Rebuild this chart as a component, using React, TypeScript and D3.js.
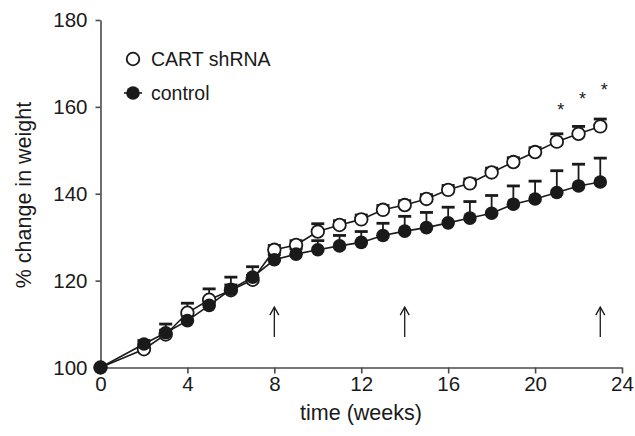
import React, { useRef, useEffect } from 'react'
import { select, scaleLinear, axisLeft, axisBottom, line } from 'd3'

// weeks of measurement (no week 1 point)
const weeks = [0, 2, 3, 4, 5, 6, 7, 8, 9, 10, 11, 12, 13, 14, 15, 16, 17, 18, 19, 20, 21, 22, 23]
const cart = [100, 104.2, 107.6, 112.6, 115.6, 117.8, 120.2, 127.1, 128.2, 131.3, 132.8, 134.1, 136.3, 137.4, 138.8, 140.9, 142.4, 144.9, 147.3, 149.6, 152.0, 153.8, 155.5]
const cartErr = [0, 0.8, 1.0, 2.2, 2.5, 1.2, 1.0, 1.0, 1.0, 1.8, 1.0, 1.0, 1.0, 1.0, 1.0, 1.0, 1.0, 1.0, 1.0, 1.0, 1.8, 1.7, 1.7]
const control = [100, 105.4, 108.0, 110.8, 114.3, 118.0, 120.8, 124.8, 126.1, 127.1, 128.0, 128.8, 130.4, 131.4, 132.2, 133.3, 134.4, 135.5, 137.6, 138.8, 140.3, 141.8, 142.7]
const controlErr = [0, 0.8, 2.0, 1.2, 1.2, 2.8, 2.4, 1.2, 1.2, 2.1, 2.4, 2.5, 2.8, 3.4, 3.5, 3.6, 3.8, 4.1, 4.2, 4.1, 5.0, 5.0, 5.5]

const xTicks = [0, 4, 8, 12, 16, 20, 24]
const yTicks = [100, 120, 140, 160, 180]

const sigWeeks = [21, 22, 23]
const sigLevels = [160.1, 162.8, 164.9]
const arrowWeeks = [8, 14, 23]
const arrowRange = [107, 113.9]

const FONT = '"Liberation Sans", Arial, Helvetica, sans-serif'
const INK = '#1a1a1a'

function App() {
  const svgRef = useRef(null)

  useEffect(() => {
    const svg = select(svgRef.current)
    svg.selectAll('*').remove()

    const x = scaleLinear().domain([0, 24]).range([100.5, 622])
    const y = scaleLinear().domain([100, 180]).range([367.5, 20])

    // axes
    const yAxis = axisLeft(y).tickValues(yTicks).tickSize(5).tickSizeOuter(0).tickPadding(8)
    const gy = svg.append('g').attr('transform', 'translate(100.5,0)').call(yAxis)
    const xAxis = axisBottom(x).tickValues(xTicks).tickSize(6).tickSizeOuter(0).tickPadding(3)
    const gx = svg.append('g').attr('transform', 'translate(0,367.5)').call(xAxis)
    ;[gx, gy].forEach(g => {
      g.select('.domain').attr('stroke', '#4a4a4a').attr('stroke-width', 1.6)
      g.selectAll('.tick line').attr('stroke', '#4a4a4a').attr('stroke-width', 1.6)
      g.selectAll('.tick text')
        .attr('fill', INK)
        .style('font-family', FONT)
        .style('font-size', '20.5px')
    })

    svg.append('text')
      .attr('x', 361).attr('y', 420)
      .attr('text-anchor', 'middle')
      .style('font-family', FONT).style('font-size', '21.5px')
      .attr('fill', INK)
      .text('time (weeks)')

    svg.append('text')
      .attr('transform', 'translate(31,195) rotate(-90)')
      .attr('text-anchor', 'middle')
      .style('font-family', FONT).style('font-size', '21.5px')
      .attr('fill', INK)
      .text('% change in weight')

    const mkLine = line().x(d => x(d[0])).y(d => y(d[1]))
    const cartPts = weeks.map((w, i) => [w, cart[i]])
    const ctrlPts = weeks.map((w, i) => [w, control[i]])

    svg.append('path').attr('d', mkLine(cartPts)).attr('fill', 'none').attr('stroke', INK).attr('stroke-width', 1.6)
    svg.append('path').attr('d', mkLine(ctrlPts)).attr('fill', 'none').attr('stroke', INK).attr('stroke-width', 1.6)

    // error bars (upper only)
    const drawErr = (vals, errs) => {
      const g = svg.append('g')
      weeks.forEach((w, i) => {
        if (!errs[i]) return
        const cx = x(w)
        const top = y(vals[i] + errs[i])
        g.append('line').attr('x1', cx).attr('x2', cx).attr('y1', y(vals[i])).attr('y2', top)
          .attr('stroke', INK).attr('stroke-width', 1.8)
        g.append('line').attr('x1', cx - 6.5).attr('x2', cx + 6.5).attr('y1', top).attr('y2', top)
          .attr('stroke', INK).attr('stroke-width', 2.8)
      })
    }
    drawErr(cart, cartErr)
    drawErr(control, controlErr)

    svg.append('g').selectAll('circle').data(cartPts).join('circle')
      .attr('cx', d => x(d[0])).attr('cy', d => y(d[1])).attr('r', 6.3)
      .attr('fill', '#fff').attr('stroke', INK).attr('stroke-width', 1.8)

    svg.append('g').selectAll('circle').data(ctrlPts).join('circle')
      .attr('cx', d => x(d[0])).attr('cy', d => y(d[1])).attr('r', 6.8)
      .attr('fill', INK)

    // significance asterisks
    svg.append('g').selectAll('text').data(sigWeeks).join('text')
      .attr('x', (d, i) => x(d) + 4).attr('y', (d, i) => y(sigLevels[i]) + 10)
      .attr('text-anchor', 'middle')
      .style('font-family', FONT).style('font-size', '18px')
      .attr('fill', INK)
      .text('*')

    // injection arrows
    const ga = svg.append('g').attr('stroke', INK).attr('stroke-width', 1.3).attr('fill', 'none')
    arrowWeeks.forEach(w => {
      const ax = x(w)
      const y0 = y(arrowRange[0])
      const y1 = y(arrowRange[1])
      ga.append('line').attr('x1', ax).attr('x2', ax).attr('y1', y0).attr('y2', y1)
      ga.append('path').attr('d', `M${ax - 4.5},${y1 + 8} L${ax},${y1} L${ax + 4.5},${y1 + 8}`)
    })

    // legend
    const lg = svg.append('g')
    lg.append('circle').attr('cx', 133).attr('cy', 59).attr('r', 6.3)
      .attr('fill', '#fff').attr('stroke', INK).attr('stroke-width', 1.8)
    lg.append('text').attr('x', 151).attr('y', 66)
      .style('font-family', FONT).style('font-size', '19.5px').attr('fill', INK)
      .text('CART shRNA')
    lg.append('line').attr('x1', 124).attr('x2', 142).attr('y1', 93).attr('y2', 93)
      .attr('stroke', INK).attr('stroke-width', 1.6)
    lg.append('circle').attr('cx', 133).attr('cy', 93).attr('r', 6.8).attr('fill', INK)
    lg.append('text').attr('x', 151).attr('y', 100)
      .style('font-family', FONT).style('font-size', '19.5px').attr('fill', INK)
      .text('control')
  }, [])

  return (
    <svg ref={svgRef} width="635" height="436"
      style={{ position: 'absolute', left: 0, top: 0, background: '#fff' }} />
  )
}

export default App
